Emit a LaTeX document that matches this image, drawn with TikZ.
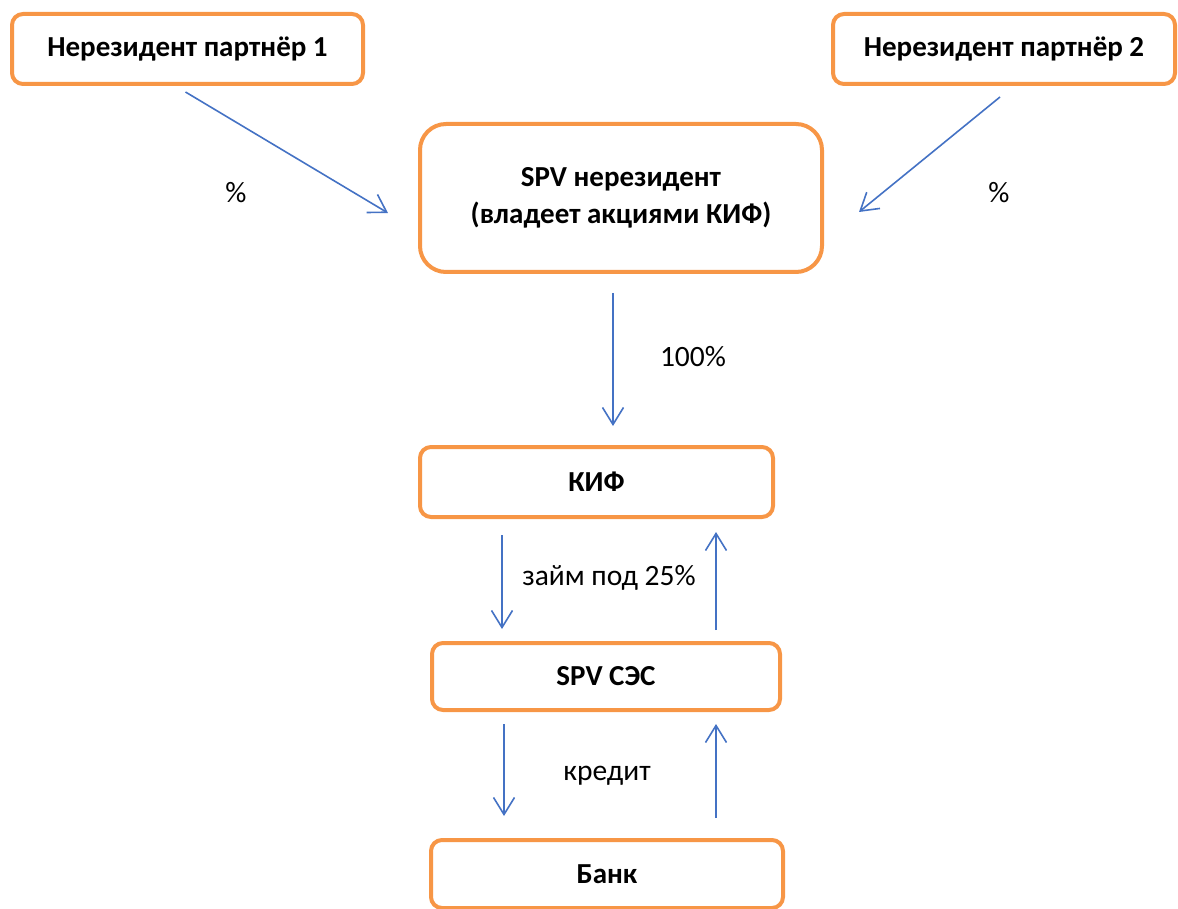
\documentclass[tikz,border=0pt]{standalone}
\usepackage{fontspec}
\setmainfont{Carlito}
\usetikzlibrary{arrows.meta}
\definecolor{boxorange}{RGB}{247,150,70}
\definecolor{arrowblue}{RGB}{68,114,196}

\begin{document}
\begin{tikzpicture}[x=1pt, y=-1pt,
	main/.style = {draw=boxorange, line width=4pt, rounded corners=11pt, fill=white, inner sep=0pt, align=center, font=\fontsize{29}{37}\selectfont\bfseries},
	arr/.style = {draw=arrowblue, line width=1.6pt, -{Straight Barb[length=17pt,width=21pt]}},
	lbl/.style = {font=\fontsize{29.5}{34}\selectfont, inner sep=0pt}]
		\useasboundingbox (0,0) rectangle (1178,909);
		\node[main, minimum width=351pt, minimum height=70pt] (p1) at (187.5,49) {Нерезидент партнёр 1};
		\node[main, minimum width=342pt, minimum height=70pt] (p2) at (1004,49) {Нерезидент партнёр 2};
		\node[main, minimum width=402pt, minimum height=148pt, rounded corners=26pt] (spv) at (621,198) {SPV нерезидент\\(владеет акциями КИФ)};
		\node[main, minimum width=353pt, minimum height=70pt] (kif) at (596.5,482) {КИФ};
		\node[main, minimum width=348pt, minimum height=67pt] (ses) at (606,676.5) {SPV СЭС};
		\node[main, minimum width=352pt, minimum height=68pt] (bank) at (607,874) {Банк};

		\draw[arr] ([xshift=-2pt,yshift=-6pt]p1.south) -- ([xshift=-30pt,yshift=-15pt]spv.west);
		\draw[arr] ([xshift=-4pt,yshift=-11pt]p2.south) -- ([xshift=35pt,yshift=-14pt]spv.east);
		\draw[arr] ([xshift=-8pt,yshift=-19pt]spv.south) -- ([xshift=16.5pt,yshift=19pt]kif.north);
		\draw[arr] ([xshift=-94.5pt,yshift=-16pt]kif.south) -- ([xshift=-104pt,yshift=12pt]ses.north);
		\draw[arr] ([xshift=110pt,yshift=11pt]ses.north) -- ([xshift=119.5pt,yshift=-13pt]kif.south);
		\draw[arr] ([xshift=-102pt,yshift=-12pt]ses.south) -- ([xshift=-103pt,yshift=22pt]bank.north);
		\draw[arr] ([xshift=109pt,yshift=20pt]bank.north) -- ([xshift=110pt,yshift=-12pt]ses.south);

		\node[lbl] (l1) at (236,193) {\%};
		\node[lbl] (l2) at (999,193) {\%};
		\node[lbl] (l3) at (693,357) {100\%};
		\node[lbl] (l4) at (609,578) {займ под 25\%};
		\node[lbl] (l5) at (607,776) {кредит};
\end{tikzpicture}
\end{document}
